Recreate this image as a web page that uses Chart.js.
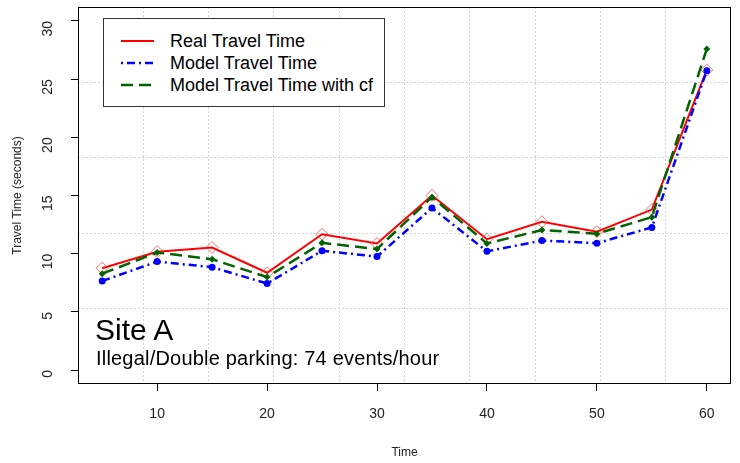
<!DOCTYPE html>
<html><head><meta charset="utf-8">
<script src="https://cdn.jsdelivr.net/npm/chart.js@4"></script>
<style>
html,body{margin:0;padding:0;background:#fff;}
#wrap{position:relative;width:740px;height:463px;overflow:hidden;}
#wrap canvas{position:absolute;left:0;top:0;}
.lg{position:absolute;left:103px;top:18px;width:282px;height:89px;border:1px solid #333;background:#fff;box-sizing:border-box;font-family:'Liberation Sans',Arial,sans-serif;font-size:18px;color:#000;}
.row{position:absolute;left:0;height:22px;line-height:22px;white-space:nowrap;}
.row svg{position:absolute;left:16px;top:0;}
.row span{position:absolute;left:66px;top:0;}
.ann{position:absolute;font-family:'Liberation Sans',Arial,sans-serif;color:#000;white-space:nowrap;}
</style></head>
<body>
<div id="wrap">
<canvas id="c" width="740" height="463"></canvas>
<div class="lg">
 <div class="row" style="top:11px"><svg width="36" height="22"><line x1="1" y1="11" x2="34" y2="11" stroke="#ff0000" stroke-width="2"/></svg><span>Real Travel Time</span></div>
 <div class="row" style="top:33px"><svg width="36" height="22"><line x1="1" y1="11" x2="34" y2="11" stroke="#0000ff" stroke-width="2.5" stroke-dasharray="2,4,8,4"/></svg><span>Model Travel Time</span></div>
 <div class="row" style="top:55px"><svg width="36" height="22"><line x1="1" y1="11" x2="34" y2="11" stroke="#006400" stroke-width="2.5" stroke-dasharray="12,6"/></svg><span>Model Travel Time with cf</span></div>
</div>
<div class="ann" style="left:95px;top:313px;font-size:30px;">Site A</div>
<div class="ann" style="left:96px;top:347px;font-size:20px;letter-spacing:0.2px;">Illegal/Double parking: 74 events/hour</div>
</div>
<script>
const times = [5,10,15,20,25,30,35,40,45,50,55,60];
const realTravelTime = [8.75,10.17,10.53,8.36,11.67,10.87,15.0,11.24,12.74,11.89,13.79,25.79];
const modelTravelTime = [7.65,9.32,8.84,7.43,10.25,9.75,13.93,10.2,11.13,10.9,12.26,25.73];
const modelTravelTimeCf = [8.28,10.1,9.52,7.99,10.93,10.4,14.86,10.88,12.03,11.72,13.14,27.6];
const xTickValues = [10,20,30,40,50,60];
const yTickValues = [0,5,10,15,20,25,30];
const gridDivisionsX = [1,2,3,4,5,6,7,8,9];
const gridDivisionsY = [1,2,3,4];

const pts = arr => times.map((t,i)=>({x:t,y:arr[i]}));
const FONT = "'Liberation Sans', Arial, sans-serif";

const boxPlugin = {
  id:'box',
  afterDatasetsDraw(chart){
    const a = chart.chartArea, ctx = chart.ctx;
    ctx.save();
    ctx.strokeStyle = '#000'; ctx.lineWidth = 1;
    ctx.strokeRect(Math.round(a.left)+0.5, Math.round(a.top)+0.5, Math.round(a.right-a.left)-1, Math.round(a.bottom-a.top)-1);
    ctx.restore();
  }
};

const noPad = s => { s.paddingTop = 0; s.paddingBottom = 0; s.paddingLeft = 0; s.paddingRight = 0; };

new Chart(document.getElementById('c'), {
  type:'line',
  data:{datasets:[
    {label:'Real Travel Time', data:pts(realTravelTime), borderColor:'#ff0000', borderWidth:2,
     pointStyle:'rectRot', pointRadius:6, pointBorderColor:'rgba(255,60,60,0.75)', pointBackgroundColor:'rgba(0,0,0,0)', pointBorderWidth:1, order:3},
    {label:'Model Travel Time', data:pts(modelTravelTime), borderColor:'#0000ff', borderWidth:2.5, borderDash:[8,4,2,4],
     pointStyle:'circle', pointRadius:3.5, pointBorderColor:'#0000ff', pointBackgroundColor:'#0000ff', pointBorderWidth:0, order:2},
    {label:'Model Travel Time with cf', data:pts(modelTravelTimeCf), borderColor:'#006400', borderWidth:2.5, borderDash:[12,6],
     pointStyle:'rectRot', pointRadius:3.5, pointBorderColor:'#006400', pointBackgroundColor:'#006400', pointBorderWidth:0, order:1}
  ]},
  options:{
    responsive:false, animation:false,
    layout:{padding:{top:3,right:9,left:0,bottom:0}},
    plugins:{legend:{display:false}, tooltip:{enabled:false}},
    elements:{line:{tension:0, fill:false}},
    scales:{
      x:{type:'linear', position:'bottom', min:2.8, max:62.2,
        afterBuildTicks:s=>{s.ticks = xTickValues.map(v=>({value:v}));},
        afterFit:s=>{s.height = 79; noPad(s);},
        grid:{drawOnChartArea:false, drawTicks:true, tickLength:7, color:'#000', tickWidth:1},
        border:{display:false},
        ticks:{font:{family:FONT,size:14}, color:'#222', padding:15, autoSkip:false, maxRotation:0},
        title:{display:true, text:'Time', font:{family:FONT,size:12}, color:'#222', padding:{top:0,bottom:3}}
      },
      y:{type:'linear', position:'left', min:-1.2, max:31.2,
        afterBuildTicks:s=>{s.ticks = yTickValues.map(v=>({value:v}));},
        afterFit:s=>{s.width = 78; noPad(s);},
        grid:{drawOnChartArea:false, drawTicks:true, tickLength:7, color:'#000', tickWidth:1},
        border:{display:false},
        ticks:{font:{family:FONT,size:14}, color:'#222', padding:23, autoSkip:false, minRotation:90, maxRotation:90},
        title:{display:true, text:'Travel Time (seconds)', font:{family:FONT,size:12}, color:'#222', padding:{top:10,bottom:0}}
      },
      gx:{type:'linear', position:'top', min:0, max:10,
        afterBuildTicks:s=>{s.ticks = gridDivisionsX.map(v=>({value:v}));},
        afterFit:s=>{s.height = 0; noPad(s);},
        grid:{drawTicks:false, color:'#d3d3d3', lineWidth:1}, border:{display:false, dash:[2,2]},
        ticks:{display:false}
      },
      gy:{type:'linear', position:'right', min:0, max:5,
        afterBuildTicks:s=>{s.ticks = gridDivisionsY.map(v=>({value:v}));},
        afterFit:s=>{s.width = 0; noPad(s);},
        grid:{drawTicks:false, color:'#d3d3d3', lineWidth:1}, border:{display:false, dash:[2,2]},
        ticks:{display:false}
      }
    }
  },
  plugins:[boxPlugin]
});
</script>
</body></html>
